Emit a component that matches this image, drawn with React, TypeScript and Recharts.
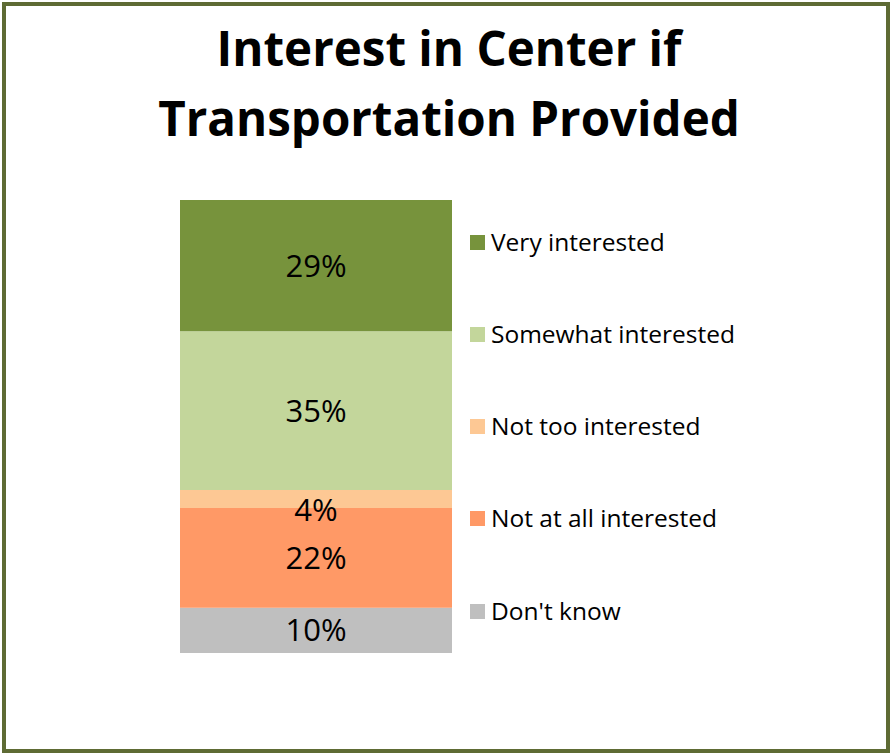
import React from "react";
import { BarChart, Bar, XAxis, YAxis, LabelList } from "recharts";

const categories = ["Interest"];
const seriesNames = ["Don't know", "Not at all interested", "Not too interested", "Somewhat interested", "Very interested"];
const dontKnow = [10];
const notAtAll = [22];
const notToo = [4];
const somewhat = [35];
const very = [29];
const colors = ["#BFBFBF", "#FF9966", "#FDC894", "#C3D69B", "#77933C"];
const titleLines = ["Interest in Center if", "Transportation Provided"];

const data = categories.map((c, i) => ({
  name: c,
  dk: dontKnow[i],
  naa: notAtAll[i],
  nti: notToo[i],
  swi: somewhat[i],
  vi: very[i],
}));
const keys = ["dk", "naa", "nti", "swi", "vi"];

const FONT = "'Open Sans', sans-serif";

const LegendBox = () => {
  const items = keys.map((k, i) => ({ name: seriesNames[i], color: colors[i] })).reverse();
  return (
    <div style={{ position: "absolute", left: 470, top: 231, width: 300, height: 470 }}>
      {items.map((it, i) => (
        <div
          key={it.name}
          style={{
            position: "absolute",
            left: 0,
            top: i * 92.25,
            height: 20,
            display: "flex",
            alignItems: "center",
            fontFamily: FONT,
            fontSize: 24.5,
            color: "#000",
            whiteSpace: "nowrap",
          }}
        >
          <span style={{ display: "inline-block", width: 15, height: 15, background: it.color, marginRight: 6, flexShrink: 0, position: "relative", top: 1 }} />
          <span>{it.name}</span>
        </div>
      ))}
    </div>
  );
};

export default function App() {
  return (
    <div style={{ position: "absolute", left: 0, top: 0, width: 890, height: 753, background: "#fff" }}>
      <div
        style={{
          position: "absolute",
          left: 2,
          top: 2,
          width: 888,
          height: 751,
          boxSizing: "border-box",
          border: "4px solid #5E6B34",
        }}
      />
      <div
        style={{
          position: "absolute",
          left: 4,
          top: 13,
          width: 890,
          textAlign: "center",
          fontFamily: FONT,
          fontWeight: 700,
          fontSize: 47.5,
          lineHeight: "70px",
          color: "#000",
        }}
      >
        {titleLines.map((l) => (
          <div key={l}>{l}</div>
        ))}
      </div>
      <div style={{ position: "absolute", left: 0, top: 0 }}>
        <BarChart
          width={890}
          height={753}
          data={data}
          margin={{ top: 200, right: 438, bottom: 100, left: 180 }}
          barCategoryGap={0}
        >
          <XAxis dataKey="name" hide />
          <YAxis hide domain={[0, 100]} />
          {keys.map((k, i) => (
            <Bar key={k} dataKey={k} stackId="a" fill={colors[i]} isAnimationActive={false} name={seriesNames[i]}>
              {k === "nti" ? (
                <LabelList
                  dataKey={k}
                  position="insideBottom"
                  offset={-13}
                  formatter={(v: any) => `${v}%`}
                  fill="#000"
                  style={{ fontFamily: FONT, fontSize: 31 }}
                />
              ) : (
                <LabelList
                  dataKey={k}
                  position="center"
                  formatter={(v: any) => `${v}%`}
                  fill="#000"
                  style={{ fontFamily: FONT, fontSize: 31 }}
                />
              )}
            </Bar>
          ))}
        </BarChart>
      </div>
      <LegendBox />
    </div>
  );
}
